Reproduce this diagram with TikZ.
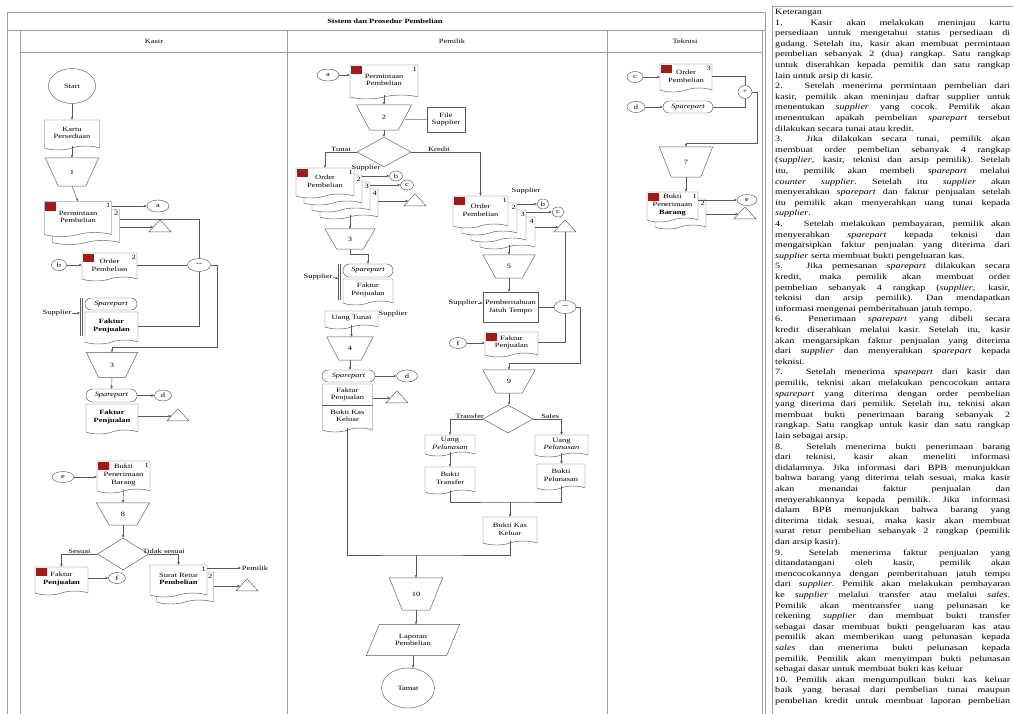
\documentclass[tikz,border=0pt]{standalone}
\usepackage{fontspec}
\setmainfont{Liberation Serif}
\newfontfamily\fcfam[FakeStretch=1.3]{Liberation Serif}
\newfontfamily\ktfam[FakeStretch=1.25]{Liberation Serif}
\usetikzlibrary{shapes.geometric,shapes.symbols,shapes.misc,arrows.meta,calc}
\newcommand\fc{\fcfam\fontsize{6.5}{7.6}\selectfont}
\newcommand\kt{\ktfam\fontsize{8.1}{10.6}\selectfont}
\definecolor{lc}{gray}{0.35}
\definecolor{fr}{gray}{0.62}
\definecolor{rs}{HTML}{A11A1A}
\newdimen\ktw \ktw=235pt
\newcommand\KJ[1]{\hbox to \ktw{#1}}
\newcommand\KL[1]{\hbox to \ktw{#1\hfil}}
\newcommand\rsq[1]{\fill[rs] ([shift={(0.8,0.8)}]#1.north west) rectangle ++(11,8.5);}
\newcommand\dn[3]{\node[num] (#1) at ([shift={(-3.5,4.5)}]#2.north east) {#3};}
\newcommand\trapz[2]{\draw[ln] (#1.north west) -- (#1.north east) -- ([xshift=-#2]#1.south east) -- ([xshift=#2]#1.south west) -- cycle;}
\begin{document}
\begin{tikzpicture}[x=1pt,y=-1pt,font=\fc,
 ln/.style={draw=lc,line width=0.45pt},
 arr/.style={ln,-{Stealth[length=3pt,width=2.6pt]}},
 docn/.style={tape,tape bend top=none,tape bend height=4pt,draw=lc,fill=white,line width=0.45pt,inner sep=0pt,align=center},
 trap/.style={inner sep=0pt},
 dia/.style={diamond,draw=lc,fill=white,line width=.45pt,inner sep=0pt},
 ell/.style={ellipse,draw=lc,fill=white,line width=.45pt,inner sep=0pt},
 conn/.style={ell,minimum width=18pt,minimum height=11pt},
 rr/.style={rounded rectangle,draw=lc,fill=white,line width=.45pt,inner sep=0pt,font=\fc\itshape},
 tri/.style={isosceles triangle,isosceles triangle apex angle=120,isosceles triangle stretches,shape border rotate=90,draw=lc,fill=white,line width=.45pt,inner sep=0pt,minimum width=22pt,minimum height=12pt},
 num/.style={inner sep=0pt,font=\fc},
 lbl/.style={inner sep=0.6pt,font=\fc},
 box/.style={draw=lc,fill=white,line width=.45pt,inner sep=0pt,align=center},
 frl/.style={draw=fr,line width=0.5pt}
]
\useasboundingbox (0,0) rectangle (1013,713);
\clip (0,0) rectangle (1013,713);
\fill[white] (0,0) rectangle (1013,713);
% ---------- frame ----------
\draw[frl] (7,12) rectangle (765,716);
\draw[frl] (7,30) -- (765,30);
\draw[frl] (20,52) -- (762,52);
\draw[frl] (20,30) -- (20,716);
\draw[frl] (287,30) -- (287,716);
\draw[frl] (607,30) -- (607,716);
\draw[frl] (762,30) -- (762,716);
\node (title) at (385,21.5) {\bfseries Sistem dan Prosedur Pembelian};
\node (hk) at (154,41.5) {Kasir};
\node (hp) at (452,41.5) {Pemilik};
\node (ht) at (685,41.5) {Teknisi};
% ---------- Kasir ----------
\node[ell,minimum width=47pt,minimum height=35pt] (start) at (72,86) {Start};
\node[docn,minimum width=55pt,minimum height=30pt] (kartu) at (72,133) {Kartu\\Persediaan};
\node[trap,minimum width=53pt,minimum height=28pt] (k1) at (72,172) {1};
\trapz{k1}{13pt}
\node[docn,minimum width=67pt,minimum height=35pt] (ppb) at (86,225) {};
\node[docn,minimum width=67pt,minimum height=35pt] (ppf) at (78,217) {Permintaan\\Pembelian};
\rsq{ppf}
\dn{n1}{ppf}{1}
\dn{n2}{ppb}{2}
\node[conn,minimum width=22pt,minimum height=12pt] (ka) at (158,206) {a};
\node[tri] (ktr1) at (160,227) {};
\node[conn,minimum width=23pt,minimum height=13pt] (km) at (199,265) {--};
\node[docn,minimum width=55pt,minimum height=28pt] (kop) at (109.5,265) {Order\\Pembelian};
\rsq{kop}
\dn{n3}{kop}{2}
\node[conn,minimum width=15pt] (kb) at (59,265) {b};
\node[rr,minimum width=52pt,minimum height=12pt] (ksp1) at (111,304) {Sparepart};
\node[docn,minimum width=53pt,minimum height=32pt,font=\fc\bfseries] (kfp1) at (111.5,326) {Faktur\\Penjualan};
\draw[ln] (80,298) -- (80,336) (82.5,298) -- (82.5,336);
\coordinate (kbr1) at (80,313);
\node[lbl] (ksup1) at (57,313) {Supplier};
\node[trap,minimum width=51pt,minimum height=25pt] (k3) at (112,365) {3};
\trapz{k3}{12.5pt}
\coordinate (kj1) at (217,347);
\node[rr,minimum width=51pt,minimum height=13pt] (ksp2) at (111.5,395.5) {Sparepart};
\node[conn,minimum width=17pt] (kd) at (163,395.5) {d};
\node[docn,minimum width=52pt,minimum height=30pt,font=\fc\bfseries] (kfp2) at (112,417) {Faktur\\Penjualan};
\node[tri] (ktr2) at (178,416) {};
\node[docn,minimum width=53pt,minimum height=32pt] (kbpb) at (123.5,475) {Bukti\\Penerimaan\\Barang};
\rsq{kbpb}
\dn{n4}{kbpb}{1}
\node[conn,minimum width=22pt] (ke) at (63,477) {e};
\node[trap,minimum width=53pt,minimum height=22pt] (k8) at (123,514) {8};
\trapz{k8}{13pt}
\node[dia,minimum width=51pt,minimum height=32pt] (kdm) at (123,554) {};
\node[docn,minimum width=53pt,minimum height=28pt] (kfk) at (61.5,579) {Faktur\\\textbf{Penjualan}};
\rsq{kfk}
\node[conn,minimum width=17pt] (kf) at (117,578) {f};
\node[docn,minimum width=57pt,minimum height=32pt] (ksrb) at (185,586) {};
\node[docn,minimum width=57pt,minimum height=32pt] (ksrf) at (178.5,579) {Surat Retur\\\textbf{Pembelian}};
\dn{n5}{ksrf}{1}
\dn{n6}{ksrb}{2}
\node[lbl,anchor=west] (kpem) at (241,568) {Pemilik};
\node[tri] (ktr3) at (247,586) {};
% Kasir connectors
\draw[arr] (start) -- (kartu);
\draw[arr] (kartu.south) -- (k1.north);
\draw[arr] (k1.south) -- (ppf.north);
\draw[arr] (ppf.east |- ka) -- (ka);
\draw[arr] (ppb.east |- ktr1) -- (ktr1);
\draw[ln] ([yshift=6pt]ppb.east) -| (km.north);
\draw[arr] (kb) -- (kop.west);
\draw[ln] (kop.east) -- (km.west);
\draw[arr] (ksup1.east) -- (kbr1);
\draw[ln] (kfp1.east) -| (km.south);
\draw[arr] (km.east) -| (kj1) -| (k3.north);
\draw[arr] (k3.south) -- (ksp2.north);
\draw[arr] (ksp2.east) -- (kd);
\draw[arr] (kfp2.east |- ktr2) -- (ktr2);
\draw[arr] (ke) -- (kbpb.west |- ke);
\draw[arr] (kbpb.south) -- (k8.north);
\draw[arr] (k8.south) -- (kdm.north);
\draw[arr] (kdm.west) -| node[lbl,pos=.25,above] (lses) {Sesuai} (kfk.north);
\draw[arr] (kfk.east |- kf) -- (kf);
\draw[arr] (kdm.east) -| node[lbl,pos=.25,above] (ltdk) {Tidak sesuai} (ksrf.north);
\draw[arr] (ksrf.east |- kpem) -- (kpem.west);
\draw[arr] (ksrb.east |- ktr3) -- (ktr3);
% ---------- Pemilik ----------
\node[conn,minimum width=22pt,minimum height=12pt] (pa) at (328,75) {a};
\node[docn,minimum width=68pt,minimum height=34pt] (ppp) at (384,80) {Permintaan\\Pembelian};
\rsq{ppp}
\dn{n7}{ppp}{1}
\node[trap,minimum width=55pt,minimum height=25pt] (p2) at (384,117.5) {2};
\trapz{p2}{13.5pt}
\node[box,minimum width=38pt,minimum height=25pt] (pfs) at (446,119.5) {File\\Supplier};
\node[dia,minimum width=54pt,minimum height=30pt] (pdm) at (384,152) {};
% tunai stack
\node[docn,minimum width=58pt,minimum height=30pt] (pt4) at (349,202) {};
\node[docn,minimum width=58pt,minimum height=30pt] (pt3) at (341,195) {};
\node[docn,minimum width=58pt,minimum height=30pt] (pt2) at (333,188) {};
\node[docn,minimum width=58pt,minimum height=30pt] (pt1) at (325,181) {Order\\Pembelian};
\rsq{pt1}
\dn{n8}{pt1}{1}
\dn{n9}{pt2}{2}
\dn{n10}{pt3}{3}
\dn{n11}{pt4}{4}
\node[lbl] (psup1) at (366,167.5) {Supplier};
\node[conn,minimum width=13pt,minimum height=10pt] (pb) at (396,176) {b};
\node[conn,minimum width=13pt,minimum height=10pt] (pc) at (407,185) {c};
\node[tri] (ptr) at (415,201) {};
\node[trap,minimum width=50pt,minimum height=20pt] (p3) at (350,239) {3};
\trapz{p3}{12pt}
\node[rr,minimum width=50pt,minimum height=13pt] (psp1) at (368,270.5) {Sparepart};
\node[docn,minimum width=50pt,minimum height=26pt] (pfp1) at (368,290) {Faktur\\Penjualan};
\draw[ln] (338,264) -- (338,300) (340.5,264) -- (340.5,300);
\coordinate (pbr) at (338,279);
\node[lbl] (psup2) at (318,277) {Supplier};
\node[docn,minimum width=53pt,minimum height=18pt] (put) at (351.5,318) {Uang Tunai};
\node[lbl] (psup3) at (393,314) {Supplier};
\node[trap,minimum width=46pt,minimum height=23pt] (p4) at (350,348.5) {4};
\trapz{p4}{12pt}
\node[rr,minimum width=53pt,minimum height=12pt] (psp2) at (348.5,376) {Sparepart};
\node[conn,minimum width=21pt,minimum height=12pt] (pd) at (407,376) {d};
\node[docn,minimum width=50pt,minimum height=48pt] (pfk) at (347.5,406) {};
\draw[ln] ([yshift=-21pt]pfk.north west) -- ([yshift=-21pt]pfk.north east);
\node[inner sep=0pt,align=center] (pfkt1) at ([yshift=-10.5pt]pfk.north) {Faktur\\Penjualan};
\node[inner sep=0pt,align=center] (pfkt2) at ([yshift=-32pt]pfk.north) {Bukti Kas\\Keluar};
\node[tri] (ptr2) at (397,398) {};
% kredit
\node[docn,minimum width=55pt,minimum height=32pt] (pk4) at (507.5,231) {};
\node[docn,minimum width=55pt,minimum height=32pt] (pk3) at (498.5,224) {};
\node[docn,minimum width=55pt,minimum height=32pt] (pk2) at (489.5,217) {};
\node[docn,minimum width=55pt,minimum height=32pt] (pk1) at (480.5,210) {Order\\Pembelian};
\rsq{pk1}
\dn{n12}{pk1}{1}
\dn{n13}{pk2}{2}
\dn{n14}{pk3}{3}
\dn{n15}{pk4}{4}
\node[lbl] (psup4) at (526,191) {Supplier};
\node[conn,minimum width=12pt,minimum height=10pt] (pb2) at (543,204) {b};
\node[conn,minimum width=12pt,minimum height=10pt] (pc2) at (558,212) {c};
\node[tri] (ptr3) at (565,227) {};
\node[trap,minimum width=52pt,minimum height=23pt] (p5) at (509,266.5) {5};
\trapz{p5}{13pt}
\node[box,minimum width=55pt,minimum height=30pt] (ppjt) at (510.5,307) {Pemberitahuan\\Jatuh Tempo};
\node[lbl] (psup5) at (463,303) {Supplier};
\node[conn,minimum width=22pt,minimum height=13pt] (pm) at (565,307) {--};
\node[docn,minimum width=53pt,minimum height=25pt] (pfk2) at (511.5,342.5) {Faktur\\Penjualan};
\rsq{pfk2}
\node[conn,minimum width=17pt] (pf) at (458,343) {f};
\coordinate (pj2) at (580,363);
\node[trap,minimum width=52pt,minimum height=23pt] (p9) at (509,381.5) {9};
\trapz{p9}{13pt}
\node[dia,minimum width=50pt,minimum height=28pt] (pdm2) at (508,419) {};
\node[docn,minimum width=50pt,minimum height=21pt] (pupl) at (450,443.5) {Uang\\\textit{Pelunasan}};
\node[docn,minimum width=53pt,minimum height=22pt] (pupr) at (561.5,444) {Uang\\\textit{Pelunasan}};
\node[docn,minimum width=50pt,minimum height=27pt] (pbt) at (450,478.5) {Bukti\\Transfer};
\node[docn,minimum width=48pt,minimum height=26pt] (pbp) at (561,475) {Bukti\\Pelunasan};
\coordinate (pj3) at (510,502);
\node[docn,minimum width=54pt,minimum height=28pt] (pbkk) at (510,529) {Bukti Kas\\Keluar};
\coordinate (pj4) at (416,555);
\node[trap,minimum width=53pt,minimum height=32pt] (p10) at (416,594) {10};
\trapz{p10}{13pt}
\node[inner sep=0pt,align=center,minimum width=93pt,minimum height=31pt] (plap) at (413,640) {Laporan\\Pembelian};
\draw[ln] ([xshift=13pt]plap.north west) -- (plap.north east) -- ([xshift=-13pt]plap.south east) -- (plap.south west) -- cycle;
\node[ell,minimum width=53pt,minimum height=40pt] (ptamat) at (408,688) {Tamat};
% Pemilik connectors
\draw[arr] (pa) -- (ppp.west |- pa);
\draw[arr] (ppp.south) -- (p2.north);
\draw[draw=fr,line width=.4pt] ([xshift=-7pt]p2.east |- pfs) -- (pfs.west);
\draw[arr] (p2.south) -- (pdm.north);
\draw[arr] (pdm.west) -| node[lbl,pos=.25,above] (ltun) {Tunai} (pt1.north);
\draw[arr] (pdm.east) -| node[lbl,pos=.2,above] (lkre) {Kredit} (pk1.north);
\draw[arr] (pt2.east |- pb) -- (pb);
\draw[arr] (pt3.east |- pc) -- (pc);
\draw[arr] (pt4.east |- ptr) -- (ptr);
\draw[arr] (pt4.south -| p3.north) -- (p3.north);
\draw[arr] (p3.south) -- ++(0,5) -| (psp1.north);
\draw[arr] (psup2.east) -- (pbr);
\draw[arr] (put.south) -- (put.south |- p4.north);
\draw[arr] (p4.south) -- (p4.south |- psp2.north);
\draw[arr] (psp2.east) -- (pd);
\draw[arr] (pfk.east |- ptr2) -- (ptr2);
\draw[arr] (pk2.east |- pb2) -- (pb2);
\draw[arr] (pk3.east |- pc2) -- (pc2);
\draw[arr] (pk4.east |- ptr3) -- (ptr3);
\draw[ln] (ptr3.south) -- (pm.north);
\draw[arr] (pk4.south -| p5.north) -- (p5.north);
\draw[arr] (p5.south) -- (p5.south |- ppjt.north);
\draw[arr] (psup5.east) -- (ppjt.west |- psup5);
\draw[ln] (ppjt.east) -- (pm.west);
\draw[arr] (pf) -- (pfk2.west |- pf);
\draw[ln] (pfk2.east) -| (pm.south);
\draw[arr] (pm.east) -| (pj2) -| (p9.north);
\draw[arr] (p9.south) -- (p9.south |- pdm2.north);
\draw[arr] (pdm2.west) -| node[lbl,pos=.2,above] (ltra) {Transfer} (pupl.north);
\draw[arr] (pdm2.east) -| node[lbl,pos=.3,above] (lsal) {Sales} (pupr.north);
\draw[arr] (pupl.south) -- (pbt.north);
\draw[arr] (pupr.south) -- (pupr.south |- pbp.north);
\draw[ln] (pbt.south) |- (pj3) -| (pbp.south);
\draw[arr] (pj3) -- (pbkk.north);
\draw[ln] (pfk.south) |- (pj4) -| (pbkk.south);
\draw[arr] (pj4) -- (p10.north);
\draw[arr] (p10.south) -- (p10.south |- plap.north);
\draw[arr] (plap.south) -- (plap.south |- ptamat.north);
% ---------- Teknisi ----------
\node[conn,minimum width=16pt] (tc) at (635,77) {c};
\node[docn,minimum width=52pt,minimum height=28pt] (top) at (686,76) {Order\\Pembelian};
\rsq{top}
\dn{n16}{top}{3}
\node[conn,minimum width=18pt] (td) at (636,107) {d};
\node[rr,minimum width=50pt,minimum height=12pt] (tsp) at (688,107) {Sparepart};
\node[conn,minimum width=14pt,minimum height=13pt] (tm) at (745,92) {+};
\coordinate (tj) at (757,143);
\node[trap,minimum width=53pt,minimum height=30pt] (t7) at (686,162) {7};
\trapz{t7}{12pt}
\node[docn,minimum width=51pt,minimum height=30pt] (tbb) at (680.5,212) {};
\node[docn,minimum width=51pt,minimum height=30pt] (tbf) at (672.5,205) {Bukti\\Penerimaan\\\textbf{Barang}};
\rsq{tbf}
\dn{n17}{tbf}{1}
\dn{n18}{tbb}{2}
\node[conn,minimum width=20pt] (te) at (747,200) {e};
\node[tri] (ttr) at (745,214) {};
\draw[arr] (tc) -- (top.west |- tc);
\draw[arr] (td) -- (tsp);
\draw[ln] (top.east) -| (tm.north);
\draw[ln] (tsp.east) -| (tm.south);
\draw[arr] (tm.east) -| (tj) -| (t7.north);
\draw[arr] (t7.south) -- (t7.south |- tbf.north);
\draw[arr] (tbf.east |- te) -- (te);
\draw[arr] (tbb.east |- ttr) -- (ttr);
% ---------- Keterangan ----------
\draw[frl] (772,6) -- (772,716);
\draw[frl] (772,6) -- (1013,6);
\node[anchor=north west,inner sep=0pt,text width=235pt,font=\kt] (ket) at (775,9) {\parindent=0pt
\spaceskip=2.6pt plus 40pt minus 1pt \xspaceskip=\spaceskip
\KL{Keterangan}
\KJ{1.\hspace{14pt} Kasir akan melakukan meninjau kartu}
\KJ{persediaan untuk mengetahui status persediaan di}
\KJ{gudang. Setelah itu, kasir akan membuat permintaan}
\KJ{pembelian sebanyak 2 (dua) rangkap. Satu rangkap}
\KJ{untuk diserahkan kepada pemilik dan satu rangkap}
\KL{lain untuk arsip di kasir.}
\KJ{2.\hspace{14pt} Setelah menerima permintaan pembelian dari}
\KJ{kasir, pemilik akan meninjau daftar supplier untuk}
\KJ{menentukan \textit{supplier} yang cocok. Pemilik akan}
\KJ{menentukan apakah pembelian \textit{sparepart} tersebut}
\KL{dilakukan secara tunai atau kredit.}
\KJ{3.\hspace{14pt} Jika dilakukan secara tunai, pemilik akan}
\KJ{membuat order pembelian sebanyak 4 rangkap}
\KJ{(\textit{supplier}, kasir, teknisi dan arsip pemilik). Setelah}
\KJ{itu, pemilik akan membeli \textit{sparepart} melalui}
\KJ{\textit{counter supplier}. Setelah itu \textit{supplier} akan}
\KJ{menyerahkan \textit{sparepart} dan faktur penjualan setelah}
\KJ{itu pemilik akan menyerahkan uang tunai kepada}
\KL{\textit{supplier}.}
\KJ{4.\hspace{14pt} Setelah melakukan pembayaran, pemilik akan}
\KJ{menyerahkan \textit{sparepart} kepada teknisi dan}
\KJ{mengarsipkan faktur penjualan yang diterima dari}
\KL{\textit{supplier} serta membuat bukti pengeluaran kas.}
\KJ{5.\hspace{14pt} Jika pemesanan \textit{sparepart} dilakukan secara}
\KJ{kredit, maka pemilik akan membuat order}
\KJ{pembelian sebanyak 4 rangkap (\textit{supplier}, kasir,}
\KJ{teknisi dan arsip pemilik). Dan mendapatkan}
\KL{informasi mengenai pemberitahuan jatuh tempo.}
\KJ{6.\hspace{14pt} Penerimaan \textit{sparepart} yang dibeli secara}
\KJ{kredit diserahkan melalui kasir. Setelah itu, kasir}
\KJ{akan mengarsipkan faktur penjualan yang diterima}
\KJ{dari \textit{supplier} dan menyerahkan \textit{sparepart} kepada}
\KL{teknisi.}
\KJ{7.\hspace{14pt} Setelah menerima \textit{sparepart} dari kasir dan}
\KJ{pemilik, teknisi akan melakukan pencocokan antara}
\KJ{\textit{sparepart} yang diterima dengan order pembelian}
\KJ{yang diterima dari pemilik. Setelah itu, teknisi akan}
\KJ{membuat bukti penerimaan barang sebanyak 2}
\KJ{rangkap. Satu rangkap untuk kasir dan satu rangkap}
\KL{lain sebagai arsip.}
\KJ{8.\hspace{14pt} Setelah menerima bukti penerimaan barang}
\KJ{dari teknisi, kasir akan meneliti informasi}
\KJ{didalamnya. Jika informasi dari BPB menunjukkan}
\KJ{bahwa barang yang diterima telah sesuai, maka kasir}
\KJ{akan menandai faktur penjualan dan}
\KJ{menyerahkannya kepada pemilik. Jika informasi}
\KJ{dalam BPB menunjukkan bahwa barang yang}
\KJ{diterima tidak sesuai, maka kasir akan membuat}
\KJ{surat retur pembelian sebanyak 2 rangkap (pemilik}
\KL{dan arsip kasir).}
\KJ{9.\hspace{14pt} Setelah menerima faktur penjualan yang}
\KJ{ditandatangani oleh kasir, pemilik akan}
\KJ{mencocokannya dengan pemberitahuan jatuh tempo}
\KJ{dari \textit{supplier}. Pemilik akan melakukan pembayaran}
\KJ{ke \textit{supplier} melalui transfer atau melalui \textit{sales}.}
\KJ{Pemilik akan mentransfer uang pelunasan ke}
\KJ{rekening \textit{supplier} dan membuat bukti transfer}
\KJ{sebagai dasar membuat bukti pengeluaran kas atau}
\KJ{pemilik akan memberikan uang pelunasan kepada}
\KJ{\textit{sales} dan menerima bukti pelunasan kepada}
\KJ{pemilik. Pemilik akan menyimpan bukti pelunasan}
\KL{sebagai dasar untuk membuat bukti kas keluar}
\KJ{10. Pemilik akan mengumpulkan bukti kas keluar}
\KJ{baik yang berasal dari pembelian tunai maupun}
\KJ{pembelian kredit untuk membuat laporan pembelian}
};
\end{tikzpicture}
\end{document}
